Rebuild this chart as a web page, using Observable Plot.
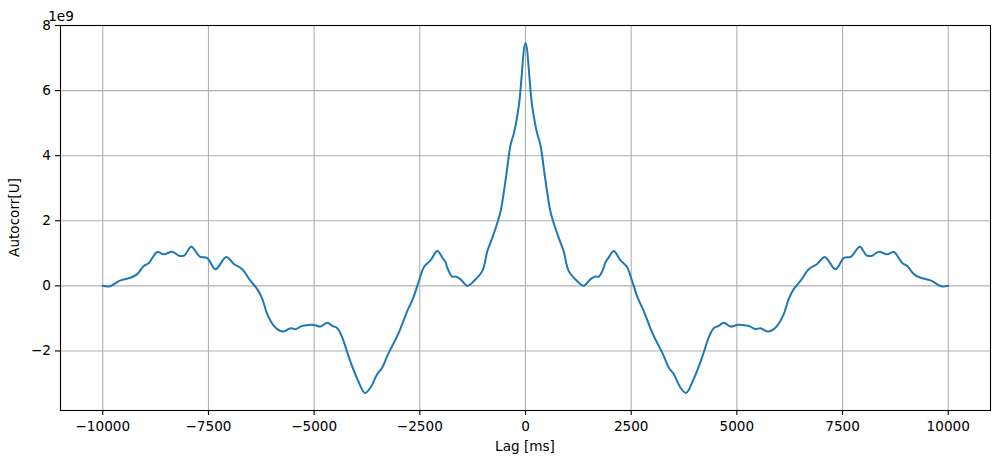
<!DOCTYPE html>
<html><head><meta charset="utf-8">
<script src="https://cdn.jsdelivr.net/npm/d3@7"></script>
<script src="https://cdn.jsdelivr.net/npm/@observablehq/plot@0.6"></script>
<style>body{margin:0;background:#fff} svg{font-family:"DejaVu Sans",sans-serif}</style>
</head><body><div id="chart"></div>
<script>
// Lag in ms
const lagsMs = [
 -10000,-9830,-9581,-9344,-9186,-9030,-8911,-8712,-8556,-8357,-8185,-8066,-7908,-7704,-7529,-7333,-7080,-6899,-6701,-6504,
 -6346,-6227,-6109,-5953,-5811,-5716,-5557,-5439,-5281,-5124,-5006,-4847,-4689,-4570,-4452,-4334,-4177,-3979,-3799,-3664,
 -3506,-3387,-3269,-3112,-2994,-2795,-2653,-2497,-2402,-2244,-2085,-1967,-1889,-1849,-1730,-1652,-1534,-1375,-1219,-1020,
 -902,-784,-665,-587,-469,-350,-272,-154,0,
 154,272,350,469,587,665,784,902,1020,1219,1375,1534,1652,1730,1849,1889,1967,2085,2244,2402,2497,
 2653,2795,2994,3112,3269,3387,3506,3664,3799,3979,4177,4334,4452,4570,4689,4847,5006,5124,5281,5439,
 5557,5716,5811,5953,6109,6227,6346,6504,6701,6899,7080,7333,7529,7704,7908,8066,8185,8357,8556,8712,
 8911,9030,9186,9344,9581,9830,10000
];
// Autocorrelation, in units of 1e9
const autocorrE9 = [
 0.00,-0.01,0.17,0.25,0.36,0.61,0.70,1.04,0.97,1.05,0.92,0.94,1.20,0.90,0.85,0.51,0.89,0.67,0.51,0.15,
 -0.10,-0.40,-0.87,-1.23,-1.38,-1.40,-1.30,-1.33,-1.23,-1.20,-1.20,-1.25,-1.13,-1.23,-1.30,-1.59,-2.20,-2.86,-3.29,-3.12,
 -2.71,-2.51,-2.15,-1.74,-1.43,-0.77,-0.36,0.25,0.58,0.79,1.07,0.87,0.72,0.55,0.28,0.29,0.20,0.00,0.15,0.46,
 1.07,1.48,1.94,2.30,3.27,4.35,4.70,5.57,7.46,
 5.57,4.70,4.35,3.27,2.30,1.94,1.48,1.07,0.46,0.15,0.00,0.20,0.29,0.28,0.55,0.72,0.87,1.07,0.79,0.58,0.25,
 -0.36,-0.77,-1.43,-1.74,-2.15,-2.51,-2.71,-3.12,-3.29,-2.86,-2.20,-1.59,-1.30,-1.23,-1.13,-1.25,-1.20,-1.20,-1.23,-1.33,
 -1.30,-1.40,-1.38,-1.23,-0.87,-0.40,-0.10,0.15,0.51,0.67,0.89,0.51,0.85,0.90,1.20,0.94,0.92,1.05,0.97,1.04,
 0.70,0.61,0.36,0.25,0.17,-0.01,0.00
];
const xTicks = [-10000,-7500,-5000,-2500,0,2500,5000,7500,10000];
const yTicks = [-2,0,2,4,6,8];

const data = lagsMs.map((lag, i) => ({lag, value: autocorrE9[i]}));
const fmt = d => d < 0 ? "\u2212" + Math.abs(d) : String(d);
const gridStyle = {stroke: "#b0b0b0", strokeOpacity: 1, strokeWidth: 1.1};
const FS = 13.6;

const chart = Plot.plot({
  width: 999, height: 463,
  marginLeft: 60, marginRight: 9, marginTop: 25, marginBottom: 53,
  style: {fontFamily: "DejaVu Sans, sans-serif", fontSize: FS + "px", color: "#000", background: "#fff"},
  x: {domain: [-11000, 11000]},
  y: {domain: [-3.83, 8.0]},
  marks: [
    Plot.gridX(xTicks, gridStyle),
    Plot.gridY(yTicks, gridStyle),
    Plot.axisX(xTicks, {tickSize: 5, tickPadding: 5.5, tickFormat: fmt, label: null, fontSize: FS, strokeWidth: 1.1}),
    Plot.axisY(yTicks, {tickSize: 5, tickPadding: 4.5, tickFormat: fmt, label: null, fontSize: FS, strokeWidth: 1.1}),
    Plot.line(data, {x: "lag", y: "value", stroke: "#1f77b4", strokeWidth: 2, curve: "catmull-rom"}),
    Plot.frame({stroke: "#000", strokeWidth: 1.1})
  ]
});

const svg = d3.select(chart);
svg.append("text").attr("x", 61).attr("y", 20.5).attr("font-size", FS).attr("fill", "#000").text("1e9");
svg.append("text").attr("x", 525).attr("y", 450.5).attr("text-anchor", "middle").attr("font-size", FS).attr("fill", "#000").text("Lag [ms]");
svg.append("text").attr("transform", "translate(19,217.5) rotate(-90)").attr("text-anchor", "middle").attr("font-size", FS).attr("fill", "#000").text("Autocorr[U]");
document.getElementById("chart").appendChild(chart);
</script>
</body></html>
